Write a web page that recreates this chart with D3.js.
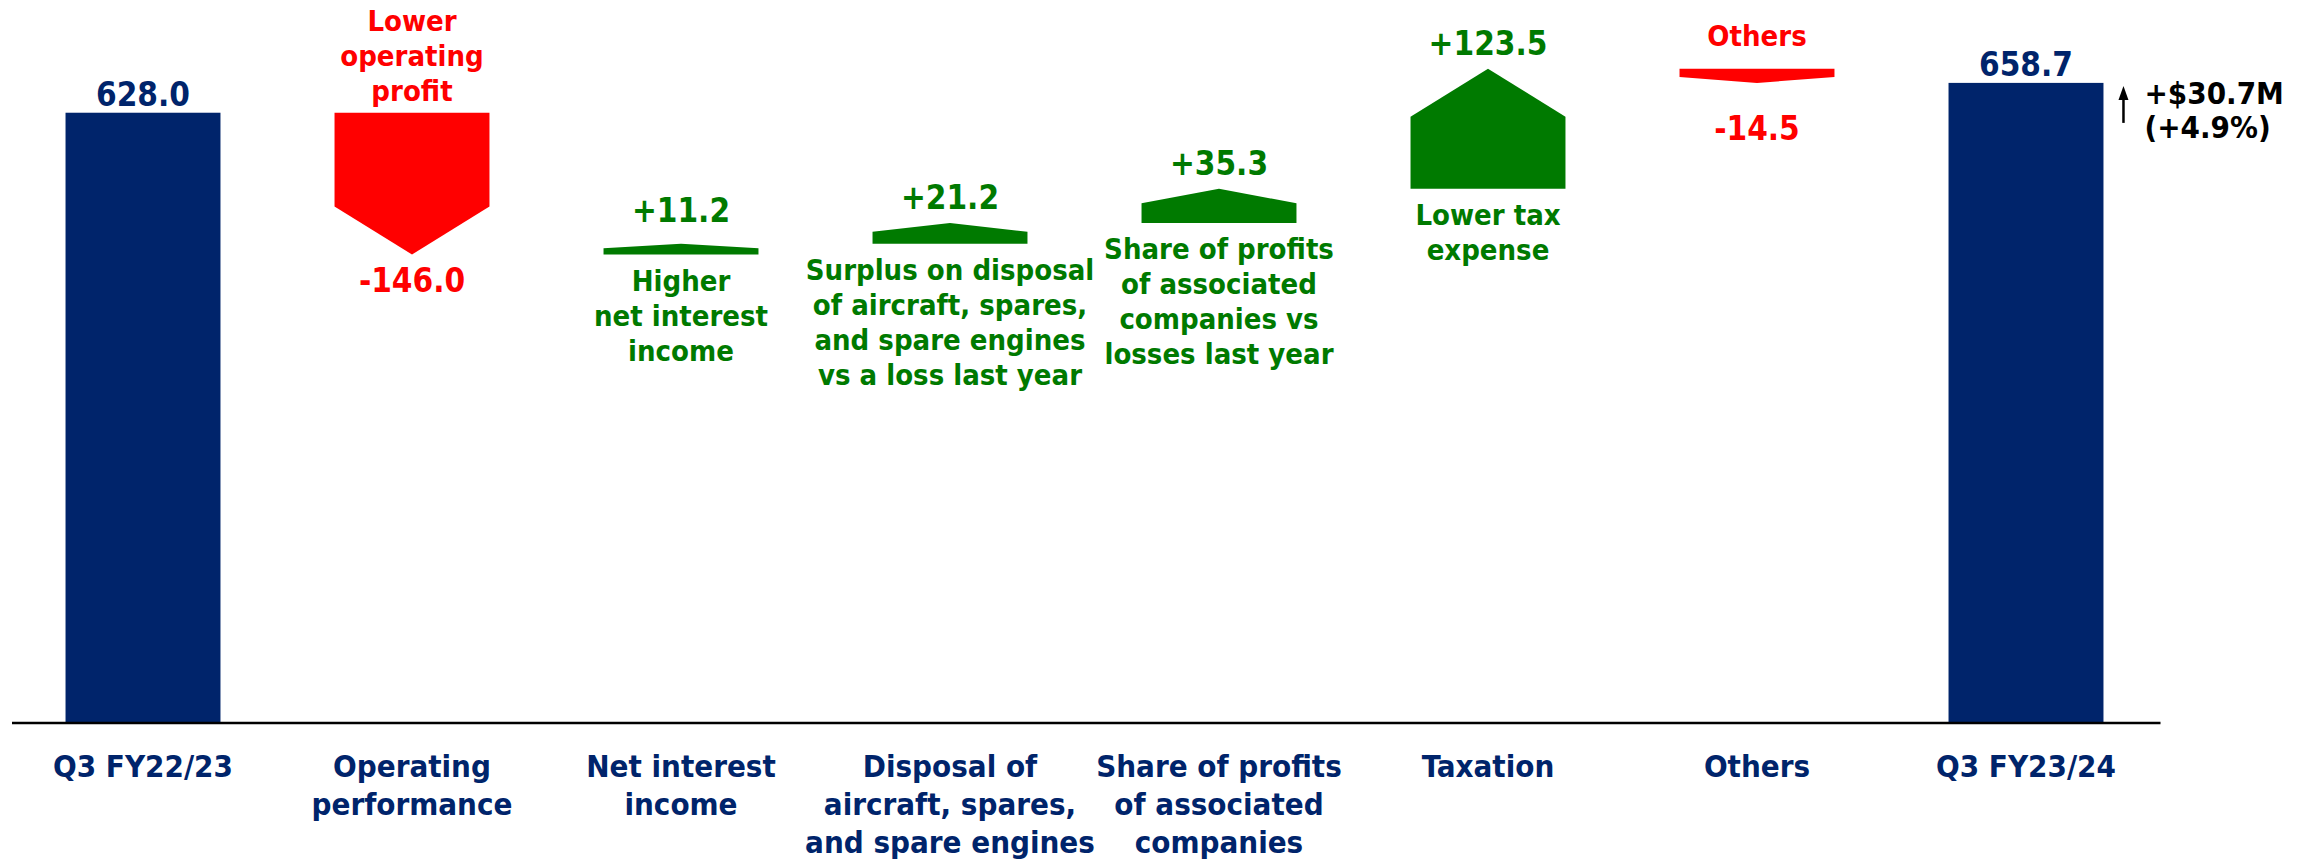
<!DOCTYPE html>
<html>
<head>
<meta charset="utf-8">
<script src="https://cdn.jsdelivr.net/npm/d3@7"></script>
<style>
  html, body { margin: 0; padding: 0; background: #fff; }
  svg { display: block; }
  text { font-family: "DejaVu Sans Condensed", "DejaVu Sans", sans-serif; font-weight: bold; }
</style>
</head>
<body>
<svg id="chart" width="2313" height="860"></svg>
<script>
// Waterfall data (S$ million)
const categories = [
    ["Q3 FY22/23"],
    ["Operating", "performance"],
    ["Net interest", "income"],
    ["Disposal of", "aircraft, spares,", "and spare engines"],
    ["Share of profits", "of associated", "companies"],
    ["Taxation"],
    ["Others"],
    ["Q3 FY23/24"]
];
const values = [628.0, -146.0, 11.2, 21.2, 35.3, 123.5, -14.5, 658.7];
const isTotal = [true, false, false, false, false, false, false, true];
const valueLabels = ["628.0", "-146.0", "+11.2", "+21.2", "+35.3", "+123.5", "-14.5", "658.7"];
const notes = [
    [],
    ["Lower", "operating", "profit"],
    ["Higher", "net interest", "income"],
    ["Surplus on disposal", "of aircraft, spares,", "and spare engines", "vs a loss last year"],
    ["Share of profits", "of associated", "companies vs", "losses last year"],
    ["Lower tax", "expense"],
    ["Others"],
    []
];
const changeText = ["+$30.7M", "(+4.9%)"];

const navy = '#00246B';
const red = '#FF0000';
const green = '#007A00';

const svg = d3.select('#chart');
const baseY = 723;

const x = d3.scaleBand()
    .domain(d3.range(categories.length))
    .range([8.5, 2160.5])
    .paddingInner(0.424)
    .paddingOuter(0.212);

const y = d3.scaleLinear()
    .domain([0, 744])
    .range([baseY, 0]);

// running totals
let run = 0;
const steps = values.map((v, i) => {
    let start, end;
    if (isTotal[i]) { start = 0; end = v; run = v; }
    else { start = run; end = run + v; run = end; }
    return { i, v, start, end };
});

const bw = x.bandwidth();

// total bars
svg.append('g')
    .selectAll('rect')
    .data(steps.filter(d => isTotal[d.i]))
    .join('rect')
    .attr('x', d => x(d.i))
    .attr('y', d => y(d.end))
    .attr('width', bw)
    .attr('height', d => y(0) - y(d.end))
    .attr('fill', navy);

// delta arrows
svg.append('g')
    .selectAll('path')
    .data(steps.filter(d => !isTotal[d.i]))
    .join('path')
    .attr('fill', d => d.v >= 0 ? green : red)
    .attr('d', d => {
        const x0 = x(d.i), x1 = x0 + bw, cx = x0 + bw / 2;
        const ys = y(d.start), ye = y(d.end);
        const h = Math.abs(ye - ys);
        const head = Math.min(0.42 * h, 48);
        const dir = d.v >= 0 ? 1 : -1; // tip upward for gains
        const sh = ye + dir * head;
        return `M${x0},${ys}L${x1},${ys}L${x1},${sh}L${cx},${ye}L${x0},${sh}Z`;
    });

// baseline
svg.append('line')
    .attr('x1', 12)
    .attr('x2', x.range()[1])
    .attr('y1', baseY)
    .attr('y2', baseY)
    .attr('stroke', '#000')
    .attr('stroke-width', 2.5);

// category labels
const cat = svg.append('g')
    .selectAll('text')
    .data(categories)
    .join('text')
    .attr('x', (d, i) => x(i) + bw / 2)
    .attr('y', 777)
    .attr('text-anchor', 'middle')
    .attr('fill', navy)
    .style('font-size', '31px');
cat.selectAll('tspan')
    .data(d => d)
    .join('tspan')
    .attr('x', function() { return d3.select(this.parentNode).attr('x'); })
    .attr('dy', (d, j) => j === 0 ? 0 : 38)
    .text(d => d);

// value labels and notes
const noteGap = 35;
steps.forEach(d => {
    const cx = x(d.i) + bw / 2;
    const col = isTotal[d.i] ? navy : (d.v >= 0 ? green : red);
    const top = Math.min(y(d.start), y(d.end));
    const bottom = Math.max(y(d.start), y(d.end));
    let valueY;
    if (isTotal[d.i]) valueY = top - 7;
    else if (d.v >= 0) valueY = top - (d.i === 2 ? 22 : 14);
    else valueY = bottom + (d.i === 6 ? 57 : 37);

    svg.append('text')
        .attr('x', cx)
        .attr('y', valueY)
        .attr('text-anchor', 'middle')
        .attr('fill', col)
        .style('font-size', '33px')
        .text(valueLabels[d.i]);

    const lines = notes[d.i];
    if (!lines.length) return;
    let firstY;
    if (d.v >= 0) firstY = bottom + 36;
    else firstY = top - (d.i === 6 ? 23 : 12) - (lines.length - 1) * noteGap;
    const t = svg.append('text')
        .attr('x', cx)
        .attr('y', firstY)
        .attr('text-anchor', 'middle')
        .attr('fill', col)
        .style('font-size', '29px');
    t.selectAll('tspan')
        .data(lines)
        .join('tspan')
        .attr('x', cx)
        .attr('dy', (l, j) => j === 0 ? 0 : noteGap)
        .text(l => l);
});

// overall change annotation
const last = steps[steps.length - 1];
const ax = x(last.i) + bw + 20;
const ay = y(last.end);
svg.append('line')
    .attr('x1', ax)
    .attr('x2', ax)
    .attr('y1', ay + 40)
    .attr('y2', ay + 14)
    .attr('stroke', '#000')
    .attr('stroke-width', 2.5);
svg.append('path')
    .attr('d', `M${ax - 5},${ay + 17}L${ax},${ay + 3}L${ax + 5},${ay + 17}Z`)
    .attr('fill', '#000');
const ct = svg.append('text')
    .attr('x', ax + 21)
    .attr('y', ay + 21)
    .attr('fill', '#000')
    .style('font-size', '31px');
ct.selectAll('tspan')
    .data(changeText)
    .join('tspan')
    .attr('x', ax + 21)
    .attr('dy', (l, j) => j === 0 ? 0 : 34)
    .text(l => l);
</script>
</body>
</html>
